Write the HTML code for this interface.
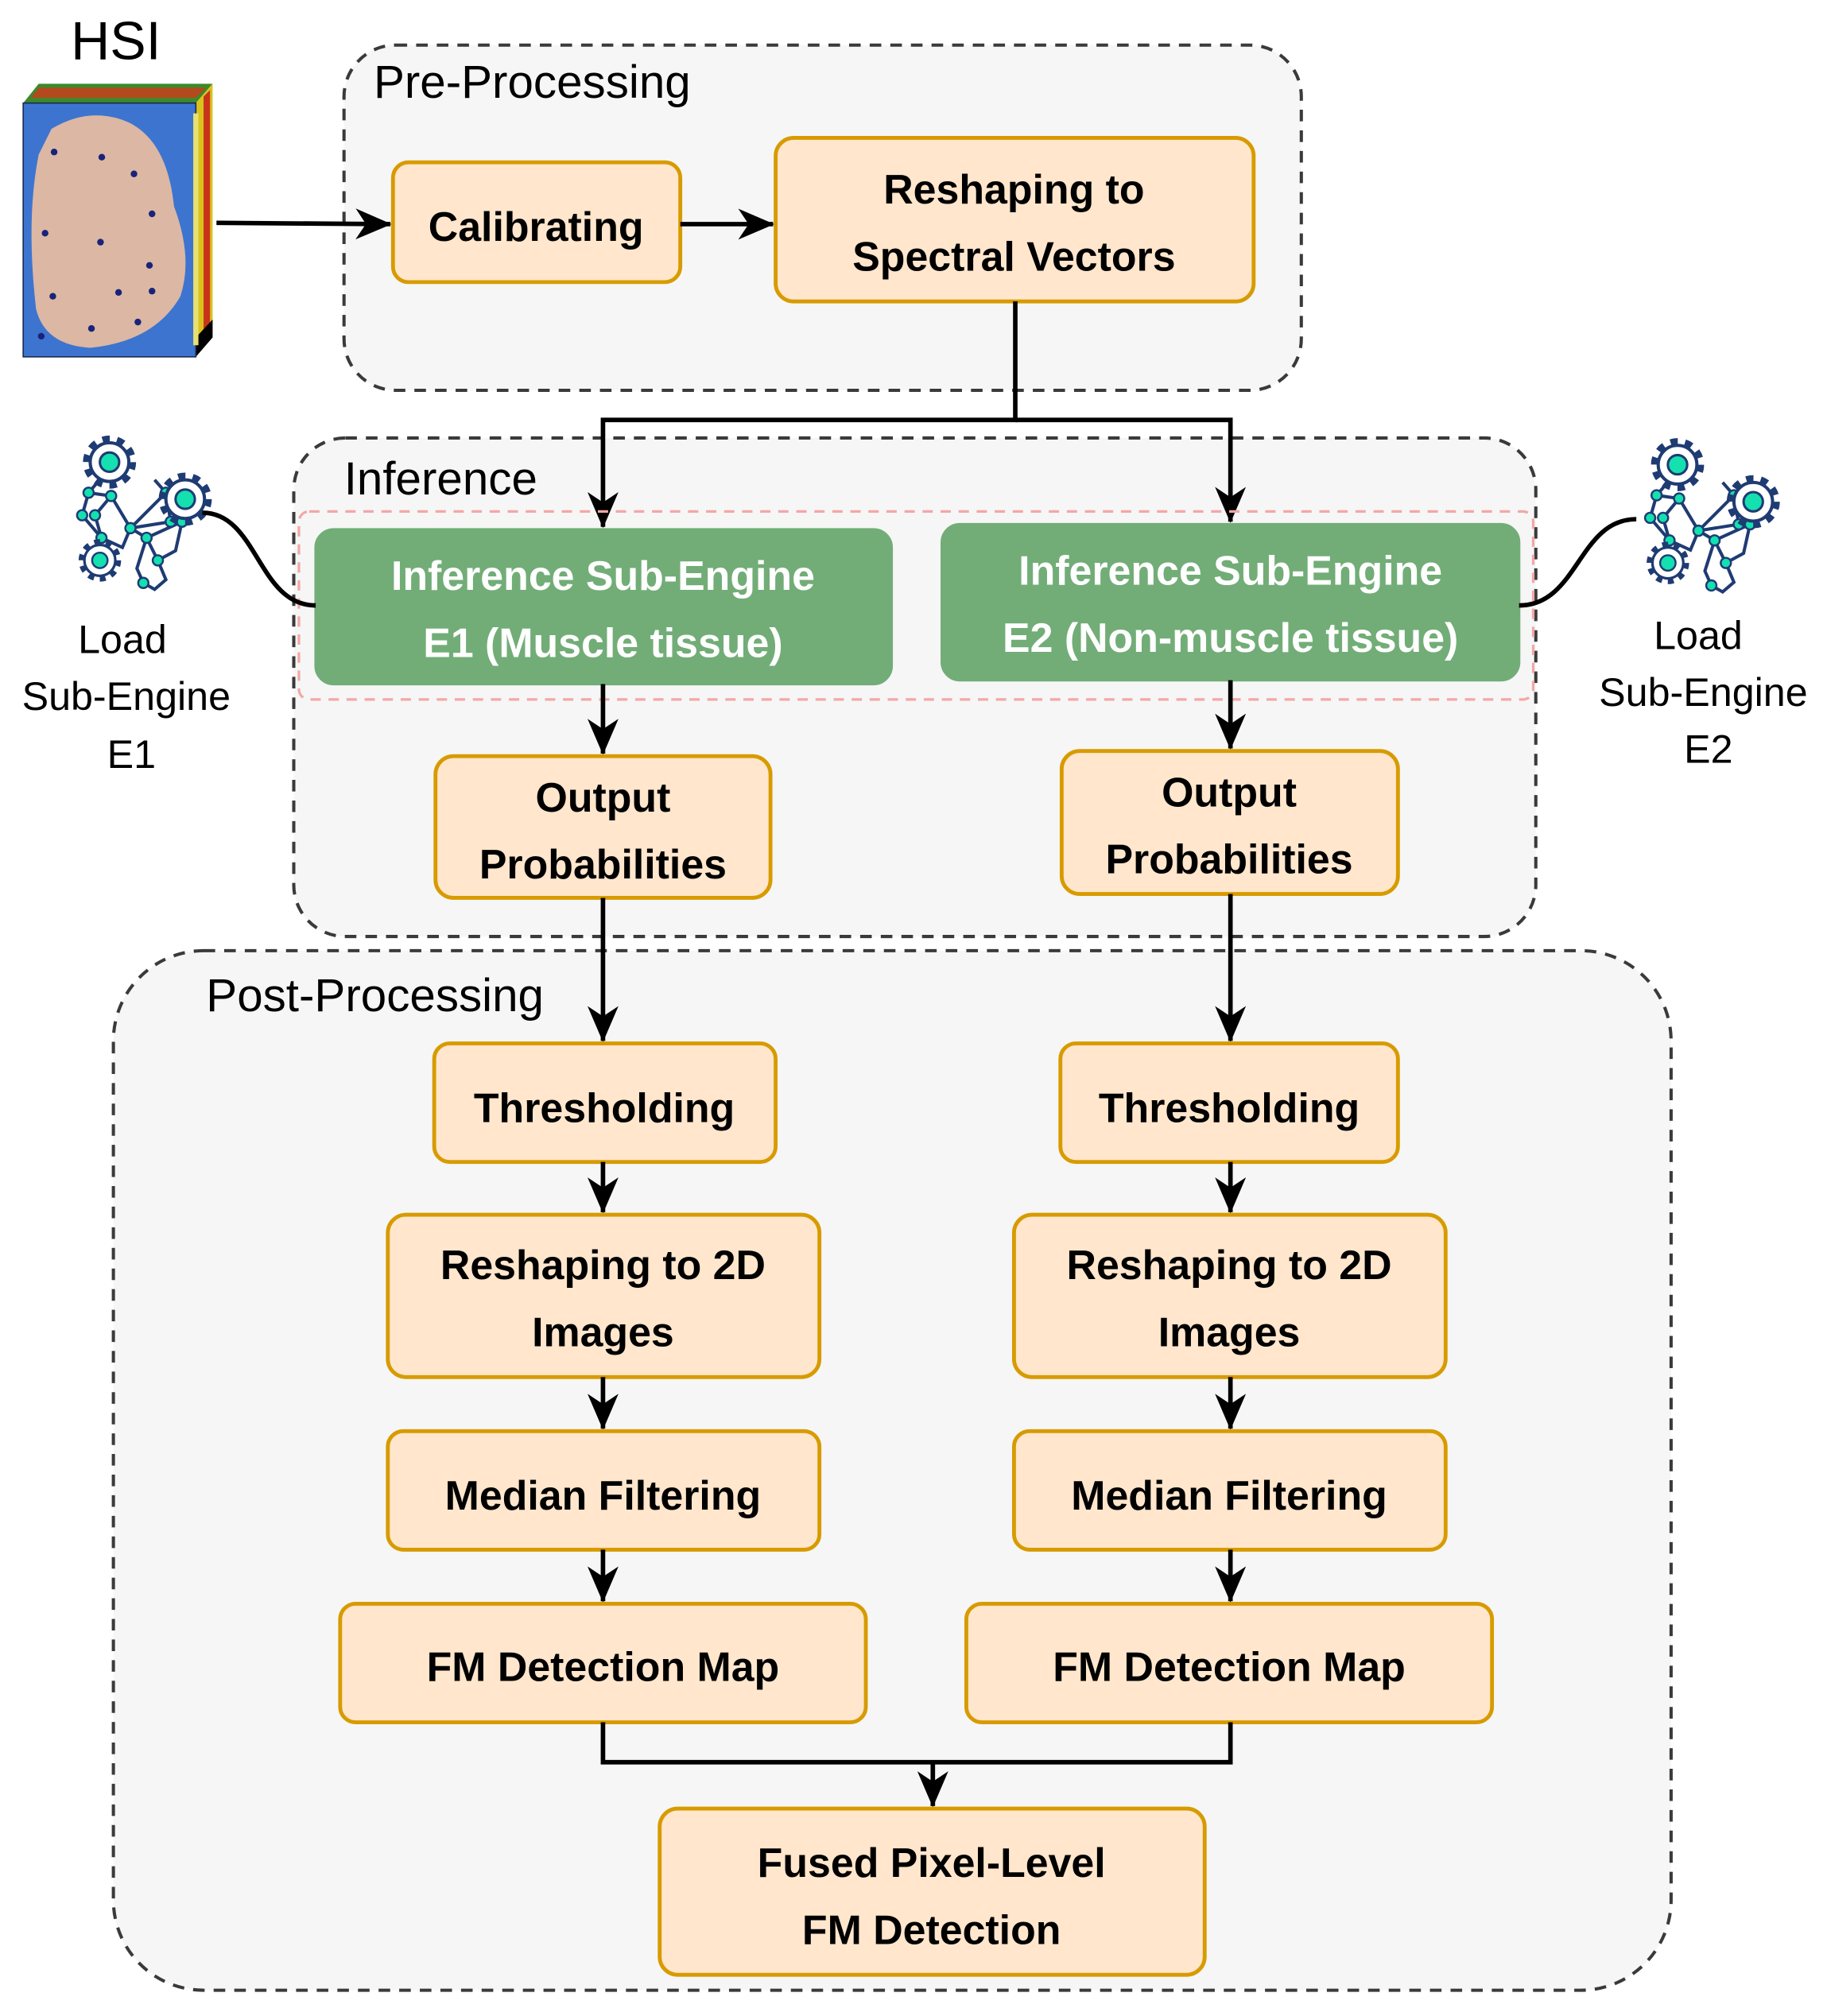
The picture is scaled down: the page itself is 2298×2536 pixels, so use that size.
<!DOCTYPE html>
<html><head><meta charset="utf-8"><style>
html,body{margin:0;padding:0;background:#fff;}
svg{display:block;}
text{font-family:"Liberation Sans",Arial,sans-serif;}
.n{font-weight:bold;font-size:32px;fill:#000;text-anchor:middle;}
.g{font-weight:bold;font-size:32px;fill:#fff;text-anchor:middle;}
.h{font-size:36px;fill:#000;}
.l{font-size:31px;fill:#000;text-anchor:middle;}
.box{fill:#ffe6cc;stroke:#d79b00;stroke-width:3;}
.grn{fill:#72ad77;stroke:#72ad77;stroke-width:2;}
.cont{fill:#f6f6f6;stroke:#3a3a3a;stroke-width:2.5;stroke-dasharray:9 7;}
.ln{stroke:#000;stroke-width:3.5;fill:none;}
</style></head><body>
<svg width="2298" height="2536" viewBox="0 0 1418 1565" preserveAspectRatio="none" xmlns="http://www.w3.org/2000/svg">
<defs>
<marker id="a" viewBox="0 0 28 24" refX="27" refY="12" markerWidth="28" markerHeight="24" markerUnits="userSpaceOnUse" orient="auto">
<path d="M0,0 L28,12 L0,24 L8,12 Z" fill="#000"/></marker>
<g id="gear">
<circle r="14" fill="none" stroke="#1f3b73" stroke-width="5" stroke-dasharray="4.4 4.4"/>
<circle r="12" fill="#fff" stroke="#1f3b73" stroke-width="2"/>
<circle r="6" fill="#14e0b0" stroke="#1f3b73" stroke-width="1.5"/>
</g>
<g id="icon">
<g stroke="#1f3b73" stroke-width="2" fill="none">
<path d="M102,418 L124,396 L127,414 L102,418 L97,430 L84,424 L72,410 L76,396 L90,398 L102,418 L112,424 L134,414 L130,432 L119,438 L112,424 M84,424 L80,410 L90,398 M119,438 L124,450 L117,456 L110,452 L106,443 L112,424 M134,414 L127,414 M76,396 L82,389 M124,396 L117,388"/>
</g>
<g fill="#14e0b0" stroke="#1f3b73" stroke-width="1.2">
<circle cx="124" cy="396" r="3.2"/><circle cx="102" cy="418" r="3.2"/><circle cx="90" cy="398" r="3.2"/><circle cx="76" cy="396" r="3.2"/><circle cx="84" cy="424" r="3.2"/><circle cx="72" cy="410" r="3.2"/><circle cx="112" cy="424" r="3.2"/><circle cx="127" cy="414" r="3.2"/><circle cx="134" cy="414" r="3.2"/><circle cx="119" cy="438" r="3.2"/><circle cx="110" cy="452" r="3.2"/><circle cx="80" cy="410" r="3.2"/>
</g>
<use href="#gear" transform="translate(89,377)"/>
<use href="#gear" transform="translate(136,400)"/>
<use href="#gear" transform="translate(83,438) scale(0.8)"/>
</g>
</defs>

<rect class="cont" x="267" y="35" width="743" height="268" rx="40"/>
<rect class="cont" x="228" y="340" width="964" height="387" rx="40"/>
<rect class="cont" x="88" y="738" width="1209" height="807" rx="70"/>
<text class="h" x="290" y="76">Pre-Processing</text>
<text class="h" x="267" y="384">Inference</text>
<text class="h" x="160" y="785">Post-Processing</text>

<text x="55" y="46" style="font-size:42px">HSI</text>
<polygon points="30,65 165,65 152,80 18,80" fill="#3b8a2a"/>
<polygon points="30,68 160,68 152,76 24,76" fill="#d23a1a" opacity="0.8"/>
<polygon points="152,80 165,65 165,262 152,277" fill="#d9c21c"/>
<polygon points="158,75 163,70 163,258 158,262" fill="#c8341a"/>
<polygon points="152,262 165,248 165,262 152,277" fill="#000"/>
<rect x="18" y="80" width="134" height="197" fill="#3d74d0" stroke="#1a2a50" stroke-width="1"/>
<rect x="150" y="88" width="4" height="180" fill="#e8e070"/>
<path d="M40,100 Q70,82 100,95 Q130,110 135,160 Q150,200 140,230 Q120,265 70,270 Q35,268 28,240 Q20,170 30,120 Z" fill="#dcb7a3"/>
<g fill="#1a237a">
<circle cx="42" cy="118" r="2.6"/><circle cx="79" cy="122" r="2.6"/><circle cx="104" cy="135" r="2.6"/><circle cx="35" cy="181" r="2.6"/><circle cx="78" cy="188" r="2.6"/><circle cx="118" cy="166" r="2.6"/><circle cx="116" cy="206" r="2.6"/><circle cx="41" cy="230" r="2.6"/><circle cx="92" cy="227" r="2.6"/><circle cx="107" cy="250" r="2.6"/><circle cx="71" cy="255" r="2.6"/><circle cx="32" cy="261" r="2.6"/><circle cx="118" cy="226" r="2.6"/>
</g>

<line class="ln" x1="168" y1="173" x2="303" y2="174" marker-end="url(#a)"/>
<rect class="box" x="305" y="126" width="223" height="93" rx="12"/>
<text class="n" x="416" y="187">Calibrating</text>
<line class="ln" x1="528" y1="174" x2="600" y2="174" marker-end="url(#a)"/>
<rect class="box" x="602" y="107" width="371" height="127" rx="14"/>
<text class="n" x="787" y="158">Reshaping to</text>
<text class="n" x="787" y="210">Spectral Vectors</text>
<path class="ln" d="M788,234 V326 H468 V409" marker-end="url(#a)"/>
<path class="ln" d="M788,326 H955 V405" marker-end="url(#a)"/>

<rect x="232" y="397" width="958" height="146" rx="8" fill="none" stroke="#f3a7a7" stroke-width="2" stroke-dasharray="8 6"/>
<rect class="grn" x="245" y="411" width="447" height="120" rx="14"/>
<text class="g" x="468" y="458">Inference Sub-Engine</text>
<text class="g" x="468" y="510">E1 (Muscle tissue)</text>
<rect class="grn" x="731" y="407" width="448" height="121" rx="14"/>
<text class="g" x="955" y="454">Inference Sub-Engine</text>
<text class="g" x="955" y="506">E2 (Non-muscle tissue)</text>

<use href="#icon" transform="translate(105,410) scale(1.25) translate(-105,-418)"/>
<use href="#icon" transform="translate(1322,412) scale(1.25) translate(-105,-418)"/>
<path class="ln" d="M157,398 C200,398 200,470 245,470"/>
<path class="ln" d="M1179,470 C1225,470 1225,403 1270,403"/>
<text class="l" x="95" y="507">Load</text>
<text class="l" x="98" y="551">Sub-Engine</text>
<text class="l" x="102" y="596">E1</text>
<text class="l" x="1318" y="504">Load</text>
<text class="l" x="1322" y="548">Sub-Engine</text>
<text class="l" x="1326" y="592">E2</text>

<line class="ln" x1="468" y1="531" x2="468" y2="585" marker-end="url(#a)"/>
<line class="ln" x1="955" y1="528" x2="955" y2="581" marker-end="url(#a)"/>
<rect class="box" x="338" y="587" width="260" height="110" rx="14"/>
<text class="n" x="468" y="630">Output</text>
<text class="n" x="468" y="682">Probabilities</text>
<rect class="box" x="824" y="583" width="261" height="111" rx="14"/>
<text class="n" x="954" y="626">Output</text>
<text class="n" x="954" y="678">Probabilities</text>

<line class="ln" x1="468" y1="697" x2="468" y2="808" marker-end="url(#a)"/>
<line class="ln" x1="955" y1="694" x2="955" y2="808" marker-end="url(#a)"/>
<rect class="box" x="337" y="810" width="265" height="92" rx="12"/>
<text class="n" x="469" y="871">Thresholding</text>
<rect class="box" x="823" y="810" width="262" height="92" rx="12"/>
<text class="n" x="954" y="871">Thresholding</text>
<line class="ln" x1="468" y1="902" x2="468" y2="941" marker-end="url(#a)"/>
<line class="ln" x1="955" y1="902" x2="955" y2="941" marker-end="url(#a)"/>
<rect class="box" x="301" y="943" width="335" height="126" rx="14"/>
<text class="n" x="468" y="993">Reshaping to 2D</text>
<text class="n" x="468" y="1045">Images</text>
<rect class="box" x="787" y="943" width="335" height="126" rx="14"/>
<text class="n" x="954" y="993">Reshaping to 2D</text>
<text class="n" x="954" y="1045">Images</text>
<line class="ln" x1="468" y1="1069" x2="468" y2="1109" marker-end="url(#a)"/>
<line class="ln" x1="955" y1="1069" x2="955" y2="1109" marker-end="url(#a)"/>
<rect class="box" x="301" y="1111" width="335" height="92" rx="12"/>
<text class="n" x="468" y="1172">Median Filtering</text>
<rect class="box" x="787" y="1111" width="335" height="92" rx="12"/>
<text class="n" x="954" y="1172">Median Filtering</text>
<line class="ln" x1="468" y1="1203" x2="468" y2="1243" marker-end="url(#a)"/>
<line class="ln" x1="955" y1="1203" x2="955" y2="1243" marker-end="url(#a)"/>
<rect class="box" x="264" y="1245" width="408" height="92" rx="12"/>
<text class="n" x="468" y="1305">FM Detection Map</text>
<rect class="box" x="750" y="1245" width="408" height="92" rx="12"/>
<text class="n" x="954" y="1305">FM Detection Map</text>
<path class="ln" d="M468,1337 V1368 H955 V1337"/>
<line class="ln" x1="724" y1="1368" x2="724" y2="1402" marker-end="url(#a)"/>
<rect class="box" x="512" y="1404" width="423" height="129" rx="14"/>
<text class="n" x="723" y="1457">Fused Pixel-Level</text>
<text class="n" x="723" y="1509">FM Detection</text>
</svg>
</body></html>
